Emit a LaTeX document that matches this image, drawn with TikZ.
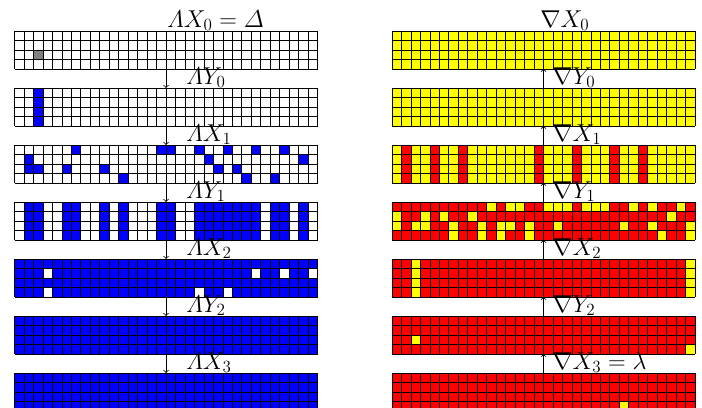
\documentclass[tikz,border=0pt]{standalone}
\usepackage{fix-cm}
\usepackage{amsmath}
\definecolor{cblue}{RGB}{0,0,255}
\definecolor{cyel}{RGB}{255,255,0}
\definecolor{cred}{RGB}{255,0,0}
\definecolor{cgray}{RGB}{128,128,128}
\tikzset{
  gridbox/.style={inner sep=0pt, outer sep=0pt, minimum width=227.28pt, minimum height=28.41pt},
  cellline/.style={line width=0.5pt, black},
  flowarrow/.style={->, >=to, line width=0.6pt, black},
  lbl/.style={anchor=base west, inner sep=0pt, font=\fontsize{18.3}{22}\selectfont},
}
\newcommand\gridlines[1]{%
  \begin{scope}[shift={(#1.north west)}]
    \foreach \i in {0,...,32} \draw[cellline] (\i*9.47,0) -- (\i*9.47,37.88);
    \foreach \j in {0,...,4} \draw[cellline] (0,\j*9.47) -- (303.04,\j*9.47);
  \end{scope}}
\newcommand\cellgrid[4]{% node, background, cell colour, col/row list
  \begin{scope}[shift={(#1.north west)}]
    \fill[#2] (0,0) rectangle (303.04,37.88);
    \foreach \cc/\rr in {#4} {\fill[#3] (\cc*9.47,\rr*9.47) rectangle ++(9.47,9.47);}
  \end{scope}
  \gridlines{#1}}
\newcommand\plaingrid[2]{%
  \begin{scope}[shift={(#1.north west)}]
    \fill[#2] (0,0) rectangle (303.04,37.88);
  \end{scope}
  \gridlines{#1}}
\begin{document}
\begin{tikzpicture}[x=0.75pt,y=-0.75pt]
\useasboundingbox (0,0) rectangle (702,407);
% grid nodes
\foreach \k in {0,...,6} {
  \node[gridbox] (L\k) at (166.02, 49.94+57*\k) {};
  \node[gridbox] (R\k) at (543.52, 49.94+57*\k) {};
}
% left column
\cellgrid{L0}{white}{cgray}{2/2}
\cellgrid{L1}{white}{cblue}{2/0,2/1,2/2,2/3}
\cellgrid{L2}{white}{cblue}{6/0,15/0,16/0,19/0,22/0,25/0,28/0,
  1/1,20/1,30/1,
  1/2,2/2,5/2,9/2,21/2,23/2,
  11/3,24/3,27/3}
\begin{scope}[shift={(L3.north west)}]
  \fill[white] (0,0) rectangle (303.04,37.88);
  \foreach \cc in {1,2,5,6,9,11,15,16,19,20,21,22,23,24,25,27,28,30}
    {\fill[cblue] (\cc*9.47,0) rectangle ++(9.47,37.88);}
\end{scope}
\gridlines{L3}
\cellgrid{L4}{cblue}{white}{3/1,25/1,28/1,31/1,3/3,19/3,22/3}
\plaingrid{L5}{cblue}
\plaingrid{L6}{cblue}
% right column
\plaingrid{R0}{cyel}
\plaingrid{R1}{cyel}
\begin{scope}[shift={(R2.north west)}]
  \fill[cyel] (0,0) rectangle (303.04,37.88);
  \foreach \cc in {1,4,7,15,19,23,26}
    {\fill[cred] (\cc*9.47,0) rectangle ++(9.47,37.88);}
\end{scope}
\gridlines{R2}
\cellgrid{R3}{cred}{cyel}{10/0,12/0,13/0,16/0,17/0,18/0,20/0,21/0,22/0,25/0,27/0,30/0,
  0/1,3/1,5/1,8/1,29/1,
  0/2,2/2,3/2,6/2,9/2,11/2,12/2,14/2,17/2,24/2,27/2,31/2,
  6/3,9/3,11/3,14/3,28/3,31/3}
\cellgrid{R4}{cred}{cyel}{2/0,2/1,2/2,2/3,31/0,31/1,31/2,31/3}
\cellgrid{R5}{cred}{cyel}{2/2,31/3}
\cellgrid{R6}{cred}{cyel}{24/3}
% arrows
\foreach \k [evaluate=\k as \n using int(\k+1)] in {0,...,5} {
  \draw[flowarrow] (L\k.south) -- (L\n.north);
  \draw[flowarrow] (R\n.north) -- (R\k.south);
}
% labels
\node[lbl] (tL0) at (167,27) {$\varLambda X_0 = \varDelta$};
\node[lbl] (tL1) at (186,84) {$\varLambda Y_0$};
\node[lbl] (tL2) at (186,141) {$\varLambda X_1$};
\node[lbl] (tL3) at (186,198) {$\varLambda Y_1$};
\node[lbl] (tL4) at (186,255) {$\varLambda X_2$};
\node[lbl] (tL5) at (186,312) {$\varLambda Y_2$};
\node[lbl] (tL6) at (186,369) {$\varLambda X_3$};
\node[lbl] (tR0) at (540,27) {$\nabla X_0$};
\node[lbl] (tR1) at (552,84) {$\nabla Y_0$};
\node[lbl] (tR2) at (552,141) {$\nabla X_1$};
\node[lbl] (tR3) at (552,198) {$\nabla Y_1$};
\node[lbl] (tR4) at (552,255) {$\nabla X_2$};
\node[lbl] (tR5) at (552,312) {$\nabla Y_2$};
\node[lbl] (tR6) at (552,369) {$\nabla X_3 = \lambda$};
\end{tikzpicture}
\end{document}
